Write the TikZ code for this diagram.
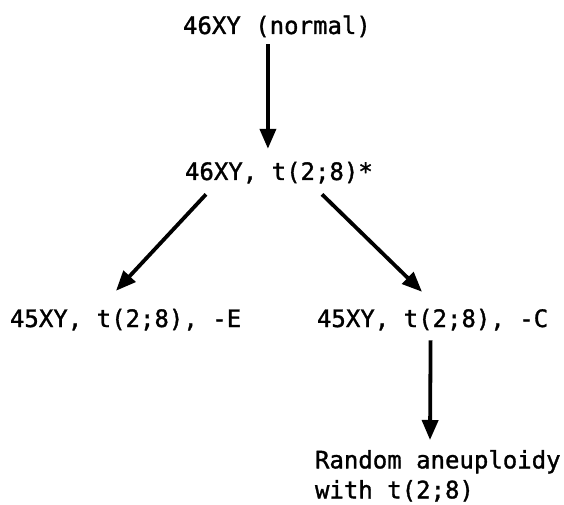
\documentclass[tikz,border=0pt]{standalone}
\usepackage{fontspec}
\newfontfamily\monofam[FakeBold=1.3]{DejaVu Sans Mono}
\usetikzlibrary{arrows.meta}
\begin{document}
\begin{tikzpicture}[x=1pt,y=1pt,
  lbl/.style={inner sep=0pt, outer sep=0pt, font=\monofam\fontsize{24pt}{30pt}\selectfont},
  arr/.style={line width=3.8pt, -{Triangle[length=20pt,width=16pt]}}]
\useasboundingbox (0,0) rectangle (564,504);
\node[lbl, anchor=base west] (top) at (183,470) {46XY (normal)};
\node[lbl, anchor=base west] (mid) at (185,324) {46XY, t(2;8)*};
\node[lbl, anchor=base west] (left) at (10,177) {45XY, t(2;8), -E};
\node[lbl, anchor=base west] (right) at (317,177) {45XY, t(2;8), -C};
\node[lbl, anchor=north west, align=left] (rand) at (315,54) {Random aneuploidy\\with t(2;8)};
\draw[arr] ([xshift=-9pt,yshift=-7pt]top.south) -- ([xshift=-11pt,yshift=13pt]mid.north);
\draw[arr] ([shift={(21pt,-11pt)}]mid.south west) -- ([shift={(106pt,18pt)}]left.north west);
\draw[arr] ([shift={(137pt,-11pt)}]mid.south west) -- ([shift={(105pt,17pt)}]right.north west);
\draw[arr] ([shift={(-2pt,-10pt)}]right.south) -- ([shift={(115pt,10pt)}]rand.north west);
\end{tikzpicture}
\end{document}
